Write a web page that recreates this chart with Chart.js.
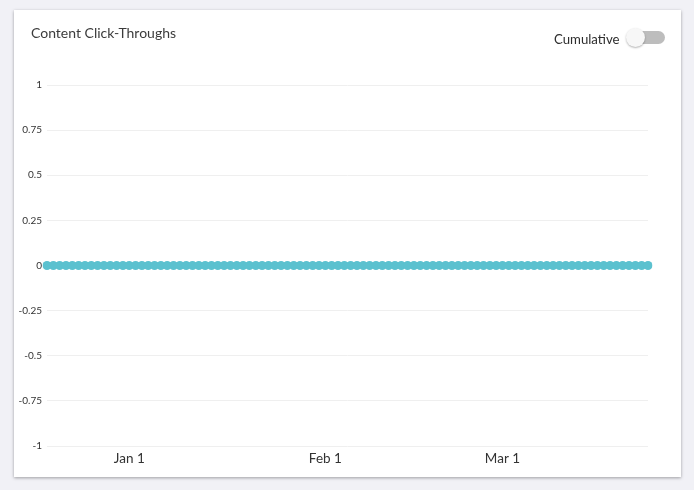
<!DOCTYPE html>
<html>
<head>
<meta charset="utf-8">
<script src="https://cdn.jsdelivr.net/npm/chart.js@4"></script>
<style>
  html, body { margin:0; padding:0; width:694px; height:490px; background:#f1f1f6; overflow:hidden; font-family: Lato, "Open Sans", sans-serif; }
  #card { position:absolute; left:14px; top:10px; width:667px; height:467px; background:#fff; box-shadow:0 1px 3px rgba(0,0,0,0.35); }
  #title { position:absolute; left:17px; top:14px; font-size:14px; color:#3b3b3b; }
  #cum { position:absolute; left:540px; top:21px; font-size:13.2px; color:#2d2d2d; }
  #track { position:absolute; left:621px; top:21px; width:30px; height:13px; border-radius:7px; background:#bdbdbd; }
  #knob { position:absolute; left:612px; top:18px; width:19px; height:19px; border-radius:50%; background:#f7f7f7; box-shadow:0 1px 2px rgba(0,0,0,0.3); }
  #wrap { position:absolute; left:0; top:0; width:667px; height:467px; }
</style>
</head>
<body>
<div id="card">
  <div id="wrap"><canvas id="c"></canvas></div>
  <div id="title">Content Click-Throughs</div>
  <div id="cum">Cumulative</div>
  <div id="track"></div>
  <div id="knob"></div>
</div>
<script>
const categories = [
  "Dec 19","Dec 20","Dec 21","Dec 22","Dec 23","Dec 24","Dec 25","Dec 26","Dec 27","Dec 28","Dec 29","Dec 30","Dec 31",
  "Jan 1","Jan 2","Jan 3","Jan 4","Jan 5","Jan 6","Jan 7","Jan 8","Jan 9","Jan 10","Jan 11","Jan 12","Jan 13","Jan 14","Jan 15","Jan 16",
  "Jan 17","Jan 18","Jan 19","Jan 20","Jan 21","Jan 22","Jan 23","Jan 24","Jan 25","Jan 26","Jan 27","Jan 28","Jan 29","Jan 30","Jan 31",
  "Feb 1","Feb 2","Feb 3","Feb 4","Feb 5","Feb 6","Feb 7","Feb 8","Feb 9","Feb 10","Feb 11","Feb 12","Feb 13","Feb 14",
  "Feb 15","Feb 16","Feb 17","Feb 18","Feb 19","Feb 20","Feb 21","Feb 22","Feb 23","Feb 24","Feb 25","Feb 26","Feb 27","Feb 28",
  "Mar 1","Mar 2","Mar 3","Mar 4","Mar 5","Mar 6","Mar 7","Mar 8","Mar 9","Mar 10","Mar 11","Mar 12",
  "Mar 13","Mar 14","Mar 15","Mar 16","Mar 17","Mar 18","Mar 19","Mar 20","Mar 21","Mar 22","Mar 23","Mar 24"
];
const clickThroughs = [
  0,0,0,0,0,0,0,0,0,0,0,0,0,
  0,0,0,0,0,0,0,0,0,0,0,0,0,0,0,0,
  0,0,0,0,0,0,0,0,0,0,0,0,0,0,0,
  0,0,0,0,0,0,0,0,0,0,0,0,0,0,
  0,0,0,0,0,0,0,0,0,0,0,0,0,0,
  0,0,0,0,0,0,0,0,0,0,0,0,
  0,0,0,0,0,0,0,0,0,0,0,0
];
const xTickLabels = ["Jan 1","Feb 1","Mar 1"];
const yMin = -1, yMax = 1, yStep = 0.25;

new Chart(document.getElementById('c'), {
  type: 'line',
  data: {
    labels: categories,
    datasets: [{
      label: 'Content Click-Throughs',
      data: clickThroughs,
      borderColor: '#5bc1cf',
      backgroundColor: '#5bc1cf',
      borderWidth: 3,
      pointRadius: 4.5,
      pointBorderWidth: 0,
      pointBackgroundColor: '#5bc1cf',
      tension: 0
    }]
  },
  options: {
    responsive: true,
    maintainAspectRatio: false,
    animation: false,
    layout: { padding: { left: 0, right: 33, top: 75, bottom: 0 } },
    plugins: { legend: { display: false }, tooltip: { enabled: false } },
    scales: {
      x: {
        type: 'category',
        offset: false,
        grid: { display: false, drawTicks: false },
        border: { display: false },
        afterFit: s => { s.height = 31; },
        ticks: {
          autoSkip: false,
          maxRotation: 0,
          padding: 5,
          color: '#333',
          font: { family: 'Lato', size: 13.5 },
          callback: function(v) {
            const l = this.getLabelForValue(v);
            return xTickLabels.includes(l) ? l : null;
          }
        }
      },
      y: {
        min: yMin, max: yMax,
        grid: { color: '#efefef', drawTicks: false, lineWidth: 1 },
        border: { display: false },
        afterFit: s => { s.width = 33; },
        ticks: {
          stepSize: yStep,
          padding: 5,
          color: '#333',
          font: { family: 'Lato', size: 10 },
          callback: v => String(v)
        }
      }
    }
  }
});
</script>
</body>
</html>
